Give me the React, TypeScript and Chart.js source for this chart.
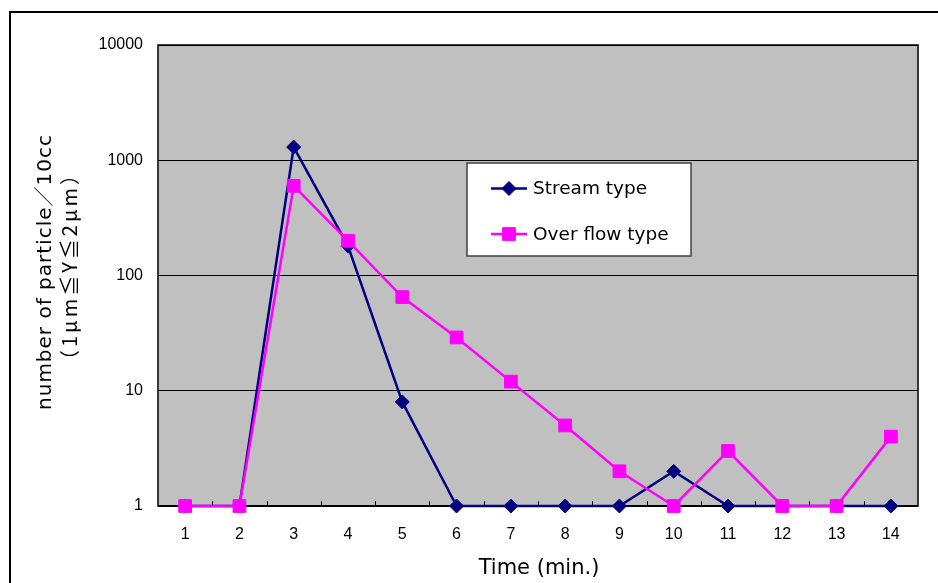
import React, { useEffect, useRef } from 'react';
import { Chart, registerables } from 'chart.js';

Chart.register(...registerables);

const categories = ['1', '2', '3', '4', '5', '6', '7', '8', '9', '10', '11', '12', '13', '14'];
const streamValues = [1, 1, 1300, 180, 8, 1, 1, 1, 1, 2, 1, 1, 1, 1];
const overflowValues = [1, 1, 600, 200, 65, 29, 12, 5, 2, 1, 3, 1, 1, 4];
const yTickValues = [1, 10, 100, 1000, 10000];
const seriesNames = ['Stream type', 'Over flow type'];
const yTitleLines = ['number of particle／10cc', '（1μm≦Y≦2μm）'];
const xTitle = 'Time (min.)';

const NAVY = '#000080';
const MAGENTA = '#FF00FF';
const PLOT_BG = '#C0C0C0';

function drawMarker(ctx: CanvasRenderingContext2D, style: string, x: number, y: number, r: number, color: string) {
  ctx.save();
  ctx.fillStyle = color;
  ctx.strokeStyle = color;
  ctx.lineWidth = 1;
  ctx.beginPath();
  if (style === 'rectRot') {
    ctx.moveTo(x, y - r);
    ctx.lineTo(x + r, y);
    ctx.lineTo(x, y + r);
    ctx.lineTo(x - r, y);
    ctx.closePath();
  } else {
    const s = Math.SQRT1_2 * r;
    ctx.rect(x - s, y - s, 2 * s, 2 * s);
  }
  ctx.fill();
  ctx.stroke();
  ctx.restore();
}

const decorPlugin = {
  id: 'decor',
  beforeDraw(chart: any) {
    const { ctx, chartArea: a } = chart;
    ctx.save();
    ctx.fillStyle = '#ffffff';
    ctx.fillRect(0, 0, chart.width, chart.height);
    ctx.strokeStyle = '#000';
    ctx.lineWidth = 2;
    ctx.strokeRect(10, 12, 2000, 2000);
    ctx.fillStyle = PLOT_BG;
    ctx.fillRect(a.left, a.top, a.right - a.left, a.bottom - a.top);
    ctx.restore();
  },
  beforeDatasetsDraw(chart: any) {
    const { ctx, chartArea: a } = chart;
    const xs = chart.scales.x;
    ctx.save();
    ctx.strokeStyle = '#000';
    ctx.lineWidth = 1;
    ctx.beginPath();
    for (let i = 0; i < categories.length - 1; i++) {
      const px = Math.round((xs.getPixelForValue(i) + xs.getPixelForValue(i + 1)) / 2) + 0.5;
      ctx.moveTo(px, a.bottom);
      ctx.lineTo(px, a.bottom - 5);
    }
    ctx.stroke();
    ctx.lineWidth = 1.5;
    ctx.strokeRect(a.left, a.top, a.right - a.left, a.bottom - a.top);
    ctx.lineWidth = 2;
    ctx.beginPath();
    ctx.moveTo(a.left, a.bottom);
    ctx.lineTo(a.right, a.bottom);
    ctx.stroke();
    ctx.restore();
  },
  afterDraw(chart: any) {
    const { ctx } = chart;
    ctx.save();
    // Legend
    const lx = 467, ly = 163, lw = 224, lh = 93;
    ctx.fillStyle = '#ffffff';
    ctx.fillRect(lx, ly, lw, lh);
    ctx.strokeStyle = '#404040';
    ctx.lineWidth = 1.5;
    ctx.strokeRect(lx, ly, lw, lh);
    const rows = [188.5, 234];
    chart.data.datasets.forEach((ds: any, i: number) => {
      const y = rows[i];
      ctx.strokeStyle = ds.borderColor;
      ctx.lineWidth = 2.5;
      ctx.beginPath();
      ctx.moveTo(491, y);
      ctx.lineTo(527, y);
      ctx.stroke();
      drawMarker(ctx, ds.pointStyle, 509, y, ds.pointRadius, ds.backgroundColor);
      ctx.fillStyle = '#000';
      ctx.font = '18.5px "DejaVu Sans", "Noto Sans CJK JP", sans-serif';
      ctx.textAlign = 'left';
      ctx.textBaseline = 'middle';
      ctx.fillText(ds.label, 533, y + 1);
    });
    // Axis titles
    ctx.fillStyle = '#000';
    ctx.font = '21px "DejaVu Sans", "Noto Sans CJK JP", sans-serif';
    ctx.textAlign = 'center';
    ctx.textBaseline = 'alphabetic';
    ctx.fillText(xTitle, 539, 574);
    ctx.save();
    ctx.translate(46, 272);
    ctx.rotate(-Math.PI / 2);
    ctx.textBaseline = 'middle';
    ctx.font = '20px "DejaVu Sans", "Noto Sans CJK JP", sans-serif';
    (ctx as any).letterSpacing = '1px';
    ctx.fillText(yTitleLines[0], 0, 0);
    ctx.restore();
    ctx.save();
    ctx.translate(69, 266);
    ctx.rotate(-Math.PI / 2);
    ctx.textBaseline = 'middle';
    ctx.font = '20px "Noto Sans CJK JP", sans-serif';
    (ctx as any).letterSpacing = '3px';
    ctx.fillText(yTitleLines[1], 0, 0);
    ctx.restore();
    ctx.restore();
  },
};

export default function App() {
  const ref = useRef<HTMLCanvasElement>(null);
  useEffect(() => {
    document.body.style.margin = '0';
    const canvas = ref.current;
    if (!canvas) return;
    const chart = new Chart(canvas, {
      type: 'line',
      data: {
        labels: categories,
        datasets: [
          {
            label: seriesNames[0],
            data: streamValues,
            borderColor: NAVY,
            backgroundColor: NAVY,
            pointStyle: 'rectRot',
            pointRadius: 7,
            pointBorderWidth: 1,
            borderWidth: 2.5,
            tension: 0,
            clip: false,
            order: 2,
          },
          {
            label: seriesNames[1],
            data: overflowValues,
            borderColor: MAGENTA,
            backgroundColor: MAGENTA,
            pointStyle: 'rect',
            pointRadius: 9,
            pointBorderWidth: 1,
            borderWidth: 2.5,
            tension: 0,
            clip: false,
            order: 1,
          },
        ],
      } as any,
      options: {
        animation: false,
        responsive: false,
        devicePixelRatio: 1,
        layout: { padding: { top: 45, right: 20, left: 0, bottom: 0 } },
        plugins: {
          legend: { display: false },
          tooltip: { enabled: false },
          title: { display: false },
        },
        scales: {
          x: {
            type: 'category',
            offset: true,
            grid: { display: false, drawTicks: false },
            border: { display: false },
            ticks: {
              color: '#000',
              font: { family: '"Liberation Sans", sans-serif', size: 16 },
              padding: 19,
              maxRotation: 0,
              autoSkip: false,
            },
            afterFit(scale: any) {
              scale.height = 77;
            },
          },
          y: {
            type: 'logarithmic',
            min: 1,
            max: 10000,
            grid: { color: '#000', lineWidth: 1, drawTicks: false },
            border: { display: false },
            ticks: {
              color: '#000',
              font: { family: '"Liberation Sans", sans-serif', size: 16 },
              padding: 15,
              callback: (v: any) => String(v),
            },
            afterBuildTicks(scale: any) {
              scale.ticks = yTickValues.map((v) => ({ value: v }));
            },
            afterFit(scale: any) {
              scale.width = 158;
            },
          },
        },
      } as any,
      plugins: [decorPlugin],
    });
    return () => chart.destroy();
  }, []);
  return <canvas ref={ref} width={938} height={583} style={{ display: 'block' }} />;
}
